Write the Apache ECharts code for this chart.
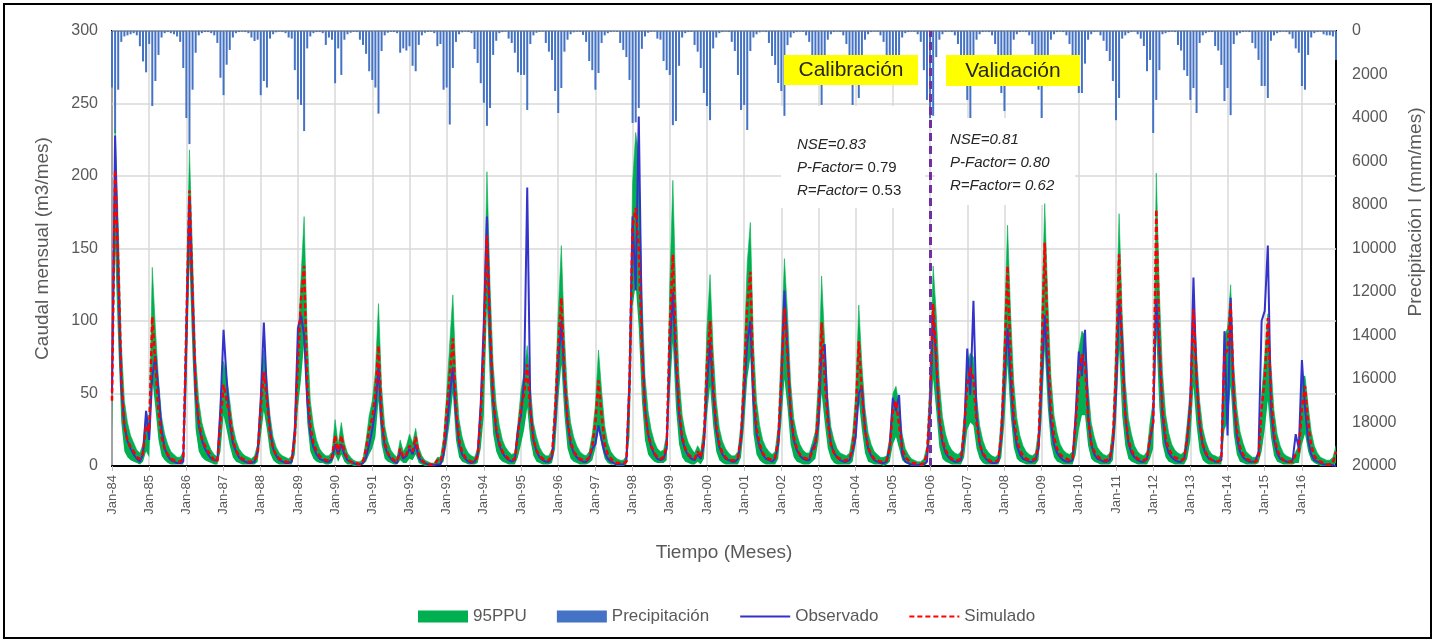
<!DOCTYPE html>
<html>
<head>
<meta charset="utf-8">
<title>Caudal mensual - calibración y validación</title>
<script src="https://cdn.jsdelivr.net/npm/echarts@6.0.0/dist/echarts.min.js"></script>
<style>
  html, body { margin: 0; padding: 0; background: #fff; }
  #chart { width: 1435px; height: 642px; }
</style>
</head>
<body>
<div id="chart"></div>
<script>
// years shown on the axis (Jan-84 ... Dec-16), one row of 12 months per year
const years = [84,85,86,87,88,89,90,91,92,93,94,95,96,97,98,99,0,1,2,3,4,5,6,7,8,9,10,11,12,13,14,15,16];
const monthNames = ['Jan','Feb','Mar','Apr','May','Jun','Jul','Aug','Sep','Oct','Nov','Dec'];

// caudal observado (m3/mes)
const observado = [
  [50,228,135,55,28,17,12,8,5,3,8,38],
  [18,62,76,52,25,12,7,4,3,2,2,3],
  [90,185,115,50,28,18,12,8,5,4,4,40],
  [94,60,30,16,10,6,4,3,2,2,3,10],
  [45,99,50,25,12,7,4,3,2,2,3,25],
  [95,104,90,45,22,13,8,5,4,3,3,5],
  [15,8,15,8,4,3,2,1,1,2,6,15],
  [25,40,68,30,14,8,5,3,2,10,5,7],
  [12,8,15,6,3,2,1,0.5,0.5,1,1,8],
  [25,48,68,35,15,8,5,3,2,3,8,43],
  [100,172,90,45,24,14,9,6,4,3,4,25],
  [35,60,192,40,18,10,6,4,3,3,6,30],
  [70,100,60,30,15,9,6,4,3,3,5,12],
  [15,28,18,9,5,3,2,1,1,1,3,60],
  [172,121,241,90,40,22,13,8,5,4,5,12],
  [80,120,70,35,18,11,7,5,4,8,5,15],
  [55,86,50,25,13,8,5,4,3,3,5,18],
  [50,85,100,45,22,13,8,5,4,3,5,15],
  [55,121,80,35,18,11,7,5,4,4,12,16],
  [30,80,84,35,15,9,6,4,3,3,4,10],
  [20,50,55,25,12,7,4,3,2,2,3,14],
  [47,38,49,8,3,2,1,0.5,0.5,1,1,3],
  [40,107,70,32,16,9,6,4,3,3,4,20],
  [81,49,114,35,15,8,5,3,2,2,3,20],
  [60,95,60,28,14,8,5,4,3,3,4,12],
  [60,104,65,30,15,9,6,4,3,3,4,35],
  [79,62,94,35,15,8,5,4,3,3,4,15],
  [50,115,86,35,16,9,6,4,3,3,5,18],
  [30,115,80,35,16,9,6,4,3,3,5,18],
  [45,130,60,28,14,8,5,4,3,3,4,93],
  [21,116,45,20,10,6,4,3,3,3,10,100],
  [107,152,40,18,9,5,4,3,3,4,22,12],
  [73,40,18,8,4,3,2,1,1,1,0.5,0]
].flat();

// caudal simulado (m3/mes)
const simulado = [
  [45,204,141,62,27,18,13,10,6,5,9,28],
  [24,103,70,38,20,12,8,5,4,3,3,5],
  [95,190,118,54,31,19,14,10,7,4,3,30],
  [56,45,35,18,11,7,5,4,3,3,4,8],
  [40,65,45,22,12,7,5,4,3,3,4,20],
  [72,115,138,55,28,16,10,7,5,4,4,6],
  [21,8,21,10,5,3,2,2,1,3,12,25],
  [33,50,83,35,16,9,6,4,3,12,6,8],
  [14,10,20,8,4,2,1,1,1,4,3,12],
  [38,62,88,40,18,10,6,4,3,3,7,35],
  [80,159,95,48,26,16,10,7,5,4,5,22],
  [40,50,70,38,18,11,7,5,4,4,7,38],
  [81,116,65,32,17,10,7,5,4,4,6,14],
  [30,59,35,15,8,5,3,2,2,2,3,55],
  [165,178,150,80,38,22,14,9,6,5,6,14],
  [95,146,80,40,20,12,8,6,5,10,6,18],
  [70,100,55,28,15,9,6,4,4,4,6,20],
  [60,110,134,55,26,15,9,6,5,4,6,18],
  [60,109,75,38,20,12,8,6,5,5,10,14],
  [40,99,60,30,15,9,6,5,4,4,5,12],
  [35,86,50,25,13,8,5,4,3,3,4,12],
  [38,45,28,12,6,4,2,2,1,1,2,8],
  [45,112,75,35,18,11,7,5,4,4,5,25],
  [55,68,60,30,15,9,6,4,3,3,4,22],
  [70,138,75,35,18,11,7,5,4,4,5,15],
  [75,154,85,40,20,12,8,6,5,4,5,30],
  [60,77,70,33,16,10,7,5,4,4,5,18],
  [65,146,75,35,18,11,7,5,4,4,5,20],
  [30,177,85,40,20,12,8,6,5,4,5,20],
  [40,108,60,30,15,9,6,4,4,3,5,77],
  [80,112,50,25,13,8,5,4,3,3,5,40],
  [60,102,50,22,11,7,4,3,3,3,8,10],
  [40,55,30,14,7,4,3,2,1,1,2,10]
].flat();

// 95PPU upper limit
const ppuAlto = [
  [62,232,168,85,45,30,21,16,11,9,15,38],
  [30,137,95,60,34,22,15,10,8,6,6,10],
  [120,218,145,75,45,30,22,16,11,8,6,45],
  [72,62,45,28,18,12,9,7,6,5,7,15],
  [52,80,60,35,20,13,9,7,6,5,7,30],
  [85,130,172,90,45,28,18,12,9,7,7,10],
  [32,15,30,16,9,6,4,3,3,5,18,35],
  [45,65,112,55,28,17,11,8,6,18,10,14],
  [22,16,26,13,7,4,3,2,2,6,6,20],
  [50,85,118,62,32,20,13,9,7,6,12,45],
  [100,203,125,70,42,28,18,13,10,8,9,30],
  [52,65,83,55,30,20,13,9,7,7,12,50],
  [105,152,90,50,30,20,14,10,8,7,10,22],
  [42,80,52,28,16,10,7,5,4,4,7,70],
  [195,230,215,120,62,38,25,17,12,10,11,22],
  [125,197,115,62,35,23,16,12,9,14,10,28],
  [95,132,80,45,26,17,12,9,7,7,10,30],
  [80,140,168,85,45,28,18,13,10,8,10,28],
  [85,143,105,58,33,22,15,11,9,9,16,24],
  [60,131,85,48,27,18,12,9,8,7,9,22],
  [50,111,70,40,23,15,10,8,6,6,7,20],
  [50,55,42,22,12,8,5,4,3,3,5,14],
  [62,138,105,58,34,22,15,11,9,8,10,35],
  [70,78,75,48,28,18,12,9,7,6,8,35],
  [95,166,105,58,33,21,14,10,8,7,9,25],
  [100,181,115,62,35,23,15,11,9,8,10,40],
  [80,93,90,55,30,20,13,10,8,7,9,28],
  [90,174,105,58,33,22,14,10,8,7,10,30],
  [45,202,120,65,36,23,15,11,9,8,10,30],
  [55,115,78,45,26,17,11,8,7,6,8,90],
  [95,125,70,40,24,16,10,8,6,6,9,50],
  [75,105,70,38,22,14,9,7,6,5,10,14],
  [62,62,42,24,14,9,6,5,4,4,6,14]
].flat();

// 95PPU lower limit
const ppuBajo = [
  [22,150,85,30,10,6,4,3,2,1,3,10],
  [6,60,40,18,7,4,2,1,1,1,1,1],
  [50,140,75,25,10,6,4,3,2,1,1,10],
  [35,25,14,6,3,2,1,1,1,1,1,3],
  [20,38,25,9,4,2,1,1,1,1,1,8],
  [40,60,85,30,10,5,3,2,2,1,1,2],
  [8,3,8,3,1,1,0,0,0,1,3,8],
  [12,20,45,15,5,3,2,1,1,4,2,2],
  [5,4,8,2,1,0,0,0,0,1,1,3],
  [15,30,50,18,6,3,2,1,1,1,2,12],
  [35,110,55,22,10,5,3,2,1,1,1,6],
  [15,25,40,18,7,3,2,1,1,1,2,12],
  [45,70,35,12,5,3,2,1,1,1,2,4],
  [12,25,14,5,2,1,1,0,0,0,1,20],
  [110,125,95,45,18,8,5,3,2,2,2,4],
  [50,85,40,15,6,3,2,1,1,3,1,5],
  [35,55,28,10,4,2,1,1,1,1,1,6],
  [28,60,75,22,8,4,2,1,1,1,1,5],
  [30,60,40,15,6,3,2,1,1,1,3,5],
  [18,50,30,12,5,2,1,1,1,1,1,3],
  [15,45,25,9,3,2,1,1,1,0,1,3],
  [15,20,12,4,2,1,0,0,0,0,0,2],
  [20,60,38,13,5,3,2,1,1,1,1,6],
  [25,30,28,12,5,2,1,1,1,1,1,6],
  [30,70,35,13,5,3,2,1,1,1,1,4],
  [32,80,40,15,6,3,2,1,1,1,1,8],
  [25,35,35,14,5,3,2,1,1,1,1,4],
  [30,80,35,14,5,3,2,1,1,1,1,5],
  [12,90,40,15,6,3,2,1,1,1,1,5],
  [18,55,28,10,4,2,1,1,1,1,1,25],
  [30,55,22,8,3,2,1,1,1,1,2,10],
  [25,45,20,7,3,2,1,1,1,1,2,2],
  [15,22,10,4,2,1,0,0,0,0,0,2]
].flat();

// precipitación (mm/mes), right axis, inverted
const precipitacion = [
  [2600,4700,2700,500,250,200,150,100,200,700,1400,1900],
  [600,3450,2300,1100,300,100,50,100,150,250,500,1700],
  [4000,5200,2700,1000,200,100,50,50,100,200,550,2150],
  [2950,1550,870,300,100,50,30,50,100,300,460,400],
  [2950,2300,2600,350,150,60,30,50,100,300,350,1800],
  [3150,3400,4600,800,250,100,50,50,100,640,300,400],
  [2400,800,2020,400,150,80,40,50,400,640,1050,1850],
  [2250,2600,3800,920,200,80,40,50,100,1000,800,900],
  [700,1600,1850,640,200,80,40,30,100,700,600,2700],
  [2600,4300,1700,500,150,60,30,50,100,830,1470,2400],
  [3300,4360,3540,1100,450,100,50,30,350,550,1000,1900],
  [2020,2020,3630,600,200,80,40,30,550,950,1330,2760],
  [3770,2620,950,400,150,60,30,30,180,500,1380,1800],
  [2700,1930,550,200,100,50,30,40,550,870,1200,2250],
  [4230,4200,3540,820,250,80,40,30,350,400,1380,1800],
  [2020,4330,4140,1600,300,100,50,40,640,950,1700,2850],
  [3450,4100,800,300,100,50,30,50,500,920,2020,3630],
  [3400,4550,920,300,150,60,30,50,550,1150,1560,2390],
  [2760,3900,650,300,100,50,30,40,200,500,1500,2200],
  [2400,3400,1800,400,150,50,30,40,200,600,1500,3400],
  [2200,3080,1500,400,150,50,30,40,200,500,1200,1800],
  [2000,2200,1600,300,100,50,30,40,150,500,1800,3170],
  [4000,3900,1200,400,150,50,30,50,200,600,1200,1800],
  [3170,4000,1500,400,150,50,30,50,200,600,1500,2850],
  [3680,2200,1500,400,150,50,30,50,200,600,1500,2700],
  [4000,2500,1500,400,150,50,30,50,200,600,1500,2200],
  [2850,2850,1500,400,150,50,30,200,450,920,1380,2300],
  [4100,3080,350,200,100,50,30,150,350,690,1850,1330],
  [4690,3170,1800,150,100,50,30,50,640,900,1800,2070],
  [3170,2620,3770,550,200,100,50,50,690,900,1560,3220],
  [2620,3870,600,200,100,50,30,50,550,800,1330,2530],
  [2530,3080,450,200,100,50,30,50,150,350,800,1000],
  [2530,2700,1100,300,100,50,30,150,200,200,250,1330]
].flat();

const meses = [];
years.forEach(y => monthNames.forEach(m => meses.push(m + '-' + String(y).padStart(2, '0'))));
const ppuAncho = ppuAlto.map((v, i) => v - ppuBajo[i]);

const FONT = '"Liberation Sans", Arial, sans-serif';
const GREY = '#595959';

const chart = echarts.init(document.getElementById('chart'), null, { renderer: 'canvas' });

chart.setOption({
  animation: false,
  backgroundColor: '#fff',
  textStyle: { fontFamily: FONT },
  grid: { left: 112, right: 99, top: 31, bottom: 176, show: true, borderColor: '#000', borderWidth: 2, backgroundColor: 'transparent' },
  legend: {
    top: 603, left: 413,
    itemWidth: 50, itemHeight: 12, itemGap: 30,
    textStyle: { fontSize: 17, color: GREY, fontFamily: FONT },
    data: [
      { name: '95PPU', icon: 'rect' },
      { name: 'Precipitación', icon: 'rect' },
      { name: 'Observado', itemStyle: { opacity: 0 } },
      { name: 'Simulado', itemStyle: { opacity: 0 } }
    ]
  },
  xAxis: {
    type: 'category',
    data: meses,
    boundaryGap: false,
    name: 'Tiempo (Meses)',
    nameLocation: 'middle',
    nameGap: 77,
    nameTextStyle: { fontSize: 19, color: GREY },
    axisLine: { lineStyle: { color: '#000', width: 2 } },
    axisTick: { interval: 11, length: 5, lineStyle: { color: '#bfbfbf' } },
    axisLabel: { interval: 11, rotate: 90, margin: 9, fontSize: 13, color: GREY },
    splitLine: { show: true, interval: 11, lineStyle: { color: '#d9d9d9', width: 1.5 } }
  },
  yAxis: [
    {
      type: 'value', min: 0, max: 300, interval: 50,
      name: 'Caudal mensual (m3/mes)',
      nameLocation: 'middle', nameRotate: 90, nameGap: 60,
      nameTextStyle: { fontSize: 19, color: GREY },
      axisLine: { show: false }, axisTick: { show: false },
      axisLabel: { fontSize: 16, color: GREY, margin: 14 },
      splitLine: { lineStyle: { color: '#d9d9d9', width: 1.5 } }
    },
    {
      type: 'value', min: 0, max: 20000, interval: 2000, inverse: true,
      axisLine: { show: false }, axisTick: { show: false },
      axisLabel: { fontSize: 16, color: GREY, margin: 16, formatter: v => String(v) },
      splitLine: { show: false }
    }
  ],
  series: [
    {
      name: 'lo95', type: 'line', data: ppuBajo, stack: 'ppu',
      symbol: 'none', silent: true, lineStyle: { width: 0 }
    },
    {
      name: '95PPU', type: 'line', data: ppuAncho, stack: 'ppu',
      symbol: 'none', silent: true,
      itemStyle: { color: '#00b050' },
      lineStyle: { width: 0.6, color: '#00b050' },
      areaStyle: { color: '#00b050', opacity: 1 }
    },
    {
      name: 'Precipitación', type: 'bar', yAxisIndex: 1, data: precipitacion,
      barWidth: 2, silent: true,
      itemStyle: { color: '#4472c4' }
    },
    {
      name: 'Observado', type: 'line', data: observado,
      symbol: 'none', silent: true,
      itemStyle: { color: '#3333cc' },
      lineStyle: { color: '#3333cc', width: 2 }
    },
    {
      name: 'Simulado', type: 'line', data: simulado,
      symbol: 'none', silent: true,
      itemStyle: { color: '#ff0000' },
      lineStyle: { color: '#ff0000', width: 2.5, type: [5, 3] },
      markLine: {
        silent: true, symbol: ['none', 'none'],
        label: { show: false },
        lineStyle: { color: '#7030a0', width: 3, type: [8, 5] },
        data: [{ xAxis: 'Jan-06' }]
      }
    }
  ],
  graphic: [
    { type: 'rect', z: 1, shape: { x: 781, y: 106, width: 144, height: 102 }, style: { fill: '#fff' } },
    { type: 'rect', z: 1, shape: { x: 935, y: 118, width: 140, height: 87 }, style: { fill: '#fff' } },
    { type: 'rect', z: 100, shape: { x: 784, y: 55, width: 134, height: 30 }, style: { fill: '#ffff00' } },
    { type: 'rect', z: 100, shape: { x: 946, y: 55, width: 134, height: 31 }, style: { fill: '#ffff00' } },
    { type: 'text', z: 101, x: 851, y: 70, style: { text: 'Calibración', fontSize: 21, fill: '#262626', fontFamily: FONT, align: 'center', verticalAlign: 'middle' } },
    { type: 'text', z: 101, x: 1013, y: 71, style: { text: 'Validación', fontSize: 21, fill: '#262626', fontFamily: FONT, align: 'center', verticalAlign: 'middle' } },
    { type: 'text', z: 101, x: 797, y: 133, style: {
        text: '{i|NSE=0.83}\n{i|P-Factor=}{n| 0.79}\n{i|R=Factor=}{n| 0.53}',
        fontFamily: FONT, fill: '#262626',
        rich: {
          i: { fontStyle: 'italic', fontSize: 15, lineHeight: 23, fill: '#262626', fontFamily: FONT },
          n: { fontSize: 15, lineHeight: 23, fill: '#262626', fontFamily: FONT }
        }
    } },
    { type: 'text', z: 101, x: 950, y: 128, style: {
        text: '{i|NSE=0.81}\n{i|P-Factor= 0.80}\n{i|R=Factor= 0.62}',
        fontFamily: FONT, fill: '#262626',
        rich: {
          i: { fontStyle: 'italic', fontSize: 15, lineHeight: 23, fill: '#262626', fontFamily: FONT }
        }
    } },
    // right axis title, placed like the reference (above the axis centre)
    { type: 'text', z: 101, x: 1416, y: 212, rotation: Math.PI / 2, style: {
        text: 'Precipitación l (mm/mes)', fontSize: 19, fill: GREY, fontFamily: FONT,
        align: 'center', verticalAlign: 'middle'
    } },
    { type: 'rect', z: 101, shape: { x: 4, y: 4, width: 1427, height: 634 }, style: { fill: 'none', stroke: '#000', lineWidth: 2 } }
  ]
});
</script>
</body>
</html>
